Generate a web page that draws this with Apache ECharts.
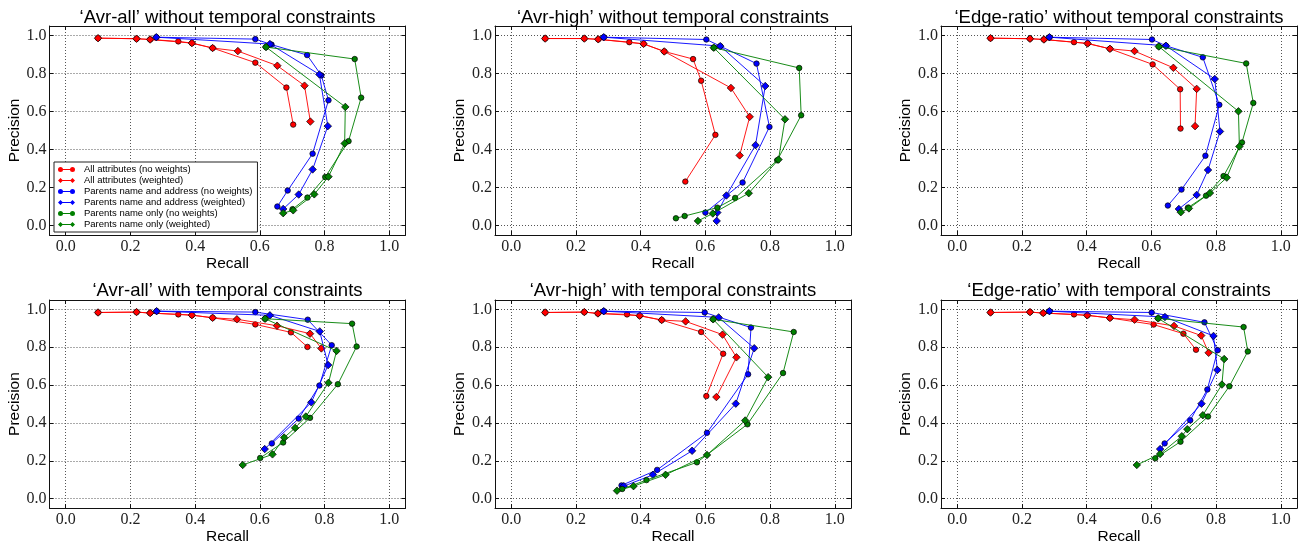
<!DOCTYPE html>
<html>
<head>
<meta charset="utf-8">
<script src="https://cdn.jsdelivr.net/npm/echarts@6/dist/echarts.min.js"></script>
<style>
  html, body { margin: 0; padding: 0; background: #fff; }
  #chart { width: 1299px; height: 546px; }
</style>
</head>
<body>
<div id="chart"></div>
<script>
const panelTitles = [
  '\u2018Avr-all\u2019 without temporal constraints',
  '\u2018Avr-high\u2019 without temporal constraints',
  '\u2018Edge-ratio\u2019 without temporal constraints',
  '\u2018Avr-all\u2019 with temporal constraints',
  '\u2018Avr-high\u2019 with temporal constraints',
  '\u2018Edge-ratio\u2019 with temporal constraints'
];
const seriesNames = [
  'All attributes (no weights)',
  'All attributes (weighted)',
  'Parents name and address (no weights)',
  'Parents name and address (weighted)',
  'Parents name only (no weights)',
  'Parents name only (weighted)'
];
const tickValues = [0, 0.2, 0.4, 0.6, 0.8, 1.0];

// 'Avr-all' without temporal constraints
const allFreeRedNW = [[0.10,0.986],[0.219,0.983],[0.261,0.979],[0.348,0.969],[0.39,0.96],[0.454,0.934],[0.586,0.857],[0.682,0.726],[0.703,0.531]];
const allFreeRedW  = [[0.10,0.986],[0.219,0.983],[0.261,0.979],[0.39,0.96],[0.454,0.934],[0.532,0.918],[0.654,0.841],[0.738,0.736],[0.756,0.547]];
const allFreeBluNW = [[0.28,0.991],[0.586,0.981],[0.636,0.952],[0.746,0.897],[0.79,0.79],[0.812,0.659],[0.763,0.378],[0.686,0.184],[0.654,0.10]];
const allFreeBluW  = [[0.28,0.991],[0.631,0.955],[0.784,0.795],[0.81,0.523],[0.763,0.295],[0.72,0.163],[0.672,0.087]];
const allFreeGrnNW = [[0.619,0.939],[0.893,0.876],[0.913,0.673],[0.874,0.444],[0.802,0.255],[0.747,0.147],[0.701,0.086]];
const allFreeGrnW  = [[0.619,0.939],[0.864,0.624],[0.862,0.432],[0.812,0.257],[0.768,0.164],[0.703,0.08],[0.672,0.065]];

// 'Avr-high' without temporal constraints
const highFreeRedNW = [[0.105,0.984],[0.226,0.984],[0.269,0.98],[0.365,0.965],[0.409,0.956],[0.473,0.916],[0.562,0.876],[0.587,0.762],[0.631,0.477],[0.538,0.231]];
const highFreeRedW  = [[0.105,0.984],[0.226,0.984],[0.269,0.98],[0.409,0.956],[0.473,0.916],[0.679,0.724],[0.737,0.572],[0.706,0.369]];
const highFreeBluNW = [[0.286,0.991],[0.603,0.979],[0.646,0.944],[0.758,0.852],[0.798,0.519],[0.715,0.226],[0.60,0.068]];
const highFreeBluW  = [[0.286,0.991],[0.646,0.944],[0.785,0.734],[0.755,0.423],[0.665,0.158],[0.637,0.068],[0.635,0.024]];
const highFreeGrnNW = [[0.626,0.936],[0.89,0.829],[0.896,0.58],[0.822,0.343],[0.692,0.145],[0.637,0.094],[0.536,0.05],[0.509,0.038]];
const highFreeGrnW  = [[0.626,0.936],[0.846,0.559],[0.826,0.347],[0.734,0.17],[0.623,0.063],[0.577,0.024]];

// 'Edge-ratio' without temporal constraints
const edgeFreeRedNW = [[0.103,0.986],[0.225,0.983],[0.268,0.979],[0.361,0.965],[0.403,0.958],[0.472,0.93],[0.604,0.848],[0.689,0.717],[0.69,0.51]];
const edgeFreeRedW  = [[0.103,0.986],[0.225,0.983],[0.268,0.979],[0.403,0.958],[0.472,0.93],[0.548,0.918],[0.668,0.83],[0.74,0.719],[0.735,0.523]];
const edgeFreeBluNW = [[0.285,0.991],[0.602,0.979],[0.645,0.946],[0.759,0.885],[0.81,0.635],[0.767,0.367],[0.693,0.189],[0.651,0.105]];
const edgeFreeBluW  = [[0.285,0.991],[0.645,0.946],[0.796,0.771],[0.812,0.495],[0.775,0.292],[0.74,0.161],[0.685,0.087]];
const edgeFreeGrnNW = [[0.623,0.942],[0.893,0.853],[0.915,0.645],[0.88,0.437],[0.823,0.26],[0.769,0.157],[0.713,0.094]];
const edgeFreeGrnW  = [[0.623,0.942],[0.869,0.601],[0.872,0.416],[0.833,0.252],[0.781,0.171],[0.716,0.09],[0.691,0.07]];

// 'Avr-all' with temporal constraints
const allTempRedNW = [[0.10,0.984],[0.219,0.986],[0.261,0.981],[0.348,0.974],[0.39,0.97],[0.454,0.956],[0.586,0.921],[0.696,0.879],[0.747,0.802]];
const allTempRedW  = [[0.10,0.984],[0.219,0.986],[0.261,0.981],[0.39,0.97],[0.454,0.956],[0.529,0.948],[0.653,0.914],[0.755,0.872],[0.79,0.794]];
const allTempBluNW = [[0.281,0.991],[0.586,0.986],[0.748,0.946],[0.822,0.811],[0.784,0.598],[0.72,0.423],[0.637,0.292]];
const allTempBluW  = [[0.281,0.991],[0.631,0.969],[0.785,0.884],[0.811,0.706],[0.759,0.509],[0.615,0.262]];
const allTempGrnNW = [[0.616,0.951],[0.885,0.925],[0.899,0.804],[0.841,0.605],[0.755,0.427],[0.672,0.297],[0.601,0.215]];
const allTempGrnW  = [[0.616,0.951],[0.837,0.781],[0.812,0.612],[0.742,0.434],[0.709,0.374],[0.675,0.323],[0.639,0.234],[0.547,0.178]];

// 'Avr-high' with temporal constraints
const highTempRedNW = [[0.105,0.984],[0.226,0.986],[0.268,0.979],[0.358,0.974],[0.397,0.967],[0.465,0.944],[0.587,0.881],[0.655,0.766],[0.603,0.542]];
const highTempRedW  = [[0.105,0.984],[0.226,0.986],[0.268,0.979],[0.397,0.967],[0.465,0.944],[0.539,0.937],[0.653,0.867],[0.696,0.747],[0.634,0.537]];
const highTempBluNW = [[0.286,0.991],[0.598,0.984],[0.741,0.904],[0.732,0.657],[0.605,0.348],[0.451,0.152],[0.341,0.07]];
const highTempBluW  = [[0.286,0.991],[0.641,0.958],[0.751,0.795],[0.694,0.502],[0.559,0.253],[0.438,0.126],[0.348,0.066]];
const highTempGrnNW = [[0.624,0.948],[0.873,0.881],[0.84,0.664],[0.73,0.393],[0.574,0.192],[0.418,0.098],[0.343,0.051]];
const highTempGrnW  = [[0.624,0.948],[0.794,0.642],[0.723,0.413],[0.605,0.231],[0.477,0.126],[0.378,0.066],[0.327,0.042]];

// 'Edge-ratio' with temporal constraints
const edgeTempRedNW = [[0.103,0.984],[0.225,0.986],[0.266,0.981],[0.361,0.974],[0.402,0.969],[0.472,0.955],[0.607,0.92],[0.699,0.872],[0.738,0.787]];
const edgeTempRedW  = [[0.103,0.984],[0.225,0.986],[0.266,0.981],[0.402,0.969],[0.472,0.955],[0.548,0.946],[0.67,0.913],[0.754,0.862],[0.777,0.771]];
const edgeTempBluNW = [[0.285,0.991],[0.601,0.984],[0.764,0.932],[0.805,0.785],[0.773,0.577],[0.72,0.414],[0.641,0.292]];
const edgeTempBluW  = [[0.285,0.991],[0.642,0.96],[0.792,0.86],[0.804,0.68],[0.755,0.502],[0.627,0.262]];
const edgeTempGrnNW = [[0.621,0.953],[0.885,0.907],[0.898,0.778],[0.841,0.594],[0.775,0.434],[0.69,0.301],[0.612,0.213]];
const edgeTempGrnW  = [[0.621,0.953],[0.825,0.738],[0.818,0.603],[0.759,0.441],[0.711,0.367],[0.694,0.33],[0.627,0.236],[0.555,0.178]];

const panelData = [
  [allFreeRedNW, allFreeRedW, allFreeBluNW, allFreeBluW, allFreeGrnNW, allFreeGrnW],
  [highFreeRedNW, highFreeRedW, highFreeBluNW, highFreeBluW, highFreeGrnNW, highFreeGrnW],
  [edgeFreeRedNW, edgeFreeRedW, edgeFreeBluNW, edgeFreeBluW, edgeFreeGrnNW, edgeFreeGrnW],
  [allTempRedNW, allTempRedW, allTempBluNW, allTempBluW, allTempGrnNW, allTempGrnW],
  [highTempRedNW, highTempRedW, highTempBluNW, highTempBluW, highTempGrnNW, highTempGrnW],
  [edgeTempRedNW, edgeTempRedW, edgeTempBluNW, edgeTempBluW, edgeTempGrnNW, edgeTempGrnW]
];

const colors = ['#ff0000', '#ff0000', '#0000ff', '#0000ff', '#008000', '#008000'];
const symbols = ['circle', 'diamond', 'circle', 'diamond', 'circle', 'diamond'];
const symbolSizes = [5.5, 7.5, 5.5, 7.5, 5.5, 7.5];

const gridLeft = [49.5, 495, 941];
const gridTop = [26, 300];
const gridW = 356, gridH = 209;

const sans = 'Liberation Sans, Arial, sans-serif';
const serif = 'Liberation Serif, Times New Roman, serif';

const iconCircle = 'path://M0,2.5A2.5,2.5,0,1,1,5,2.5A2.5,2.5,0,1,1,0,2.5Z M12,2.5A2.5,2.5,0,1,1,17,2.5A2.5,2.5,0,1,1,12,2.5Z M4,2.1L13,2.1L13,2.9L4,2.9Z';
const iconDiamond = 'path://M2.5,0L5,2.5L2.5,5L0,2.5Z M14.5,0L17,2.5L14.5,5L12,2.5Z M4,2.1L13,2.1L13,2.9L4,2.9Z';

const grids = [], xAxes = [], yAxes = [], series = [], titles = [];
const frameLine = { show: true, onZero: false, lineStyle: { color: '#111', width: 1 } };
const inTick = { show: true, inside: true, length: 4, customValues: tickValues, lineStyle: { color: '#111', width: 1 } };
const dotted = { show: true, lineStyle: { color: '#555', width: 1, type: [1, 2] } };

panelTitles.forEach((t, i) => {
  const col = i % 3, row = Math.floor(i / 3);
  grids.push({ left: gridLeft[col], top: gridTop[row], width: gridW, height: gridH });
  titles.push({
    text: t, left: gridLeft[col] + gridW / 2, top: row === 0 ? 17.5 : 290.5,
    textAlign: 'center', textVerticalAlign: 'middle', padding: 0,
    textStyle: { fontFamily: sans, fontSize: 18.5, fontWeight: 'normal', color: '#000' }
  });
  xAxes.push({
    type: 'value', gridIndex: i, position: 'bottom', min: -0.05, max: 1.05,
    name: 'Recall', nameLocation: 'middle', nameGap: 16,
    nameTextStyle: { fontFamily: sans, fontSize: 15.5, color: '#000' },
    axisLine: frameLine, axisTick: inTick, splitLine: dotted,
    axisLabel: { customValues: tickValues, margin: 4, fontFamily: serif, fontSize: 16, color: '#222', formatter: v => v.toFixed(1) }
  });
  xAxes.push({
    type: 'value', gridIndex: i, position: 'top', min: -0.05, max: 1.05,
    axisLine: frameLine, axisTick: inTick, splitLine: { show: false }, axisLabel: { show: false }
  });
  yAxes.push({
    type: 'value', gridIndex: i, position: 'left', min: -0.05, max: 1.05,
    name: 'Precision', nameLocation: 'middle', nameGap: 25,
    nameTextStyle: { fontFamily: sans, fontSize: 15.5, color: '#000' },
    axisLine: frameLine, axisTick: inTick, splitLine: dotted,
    axisLabel: { customValues: tickValues, margin: 3, fontFamily: serif, fontSize: 16, color: '#222', formatter: v => v.toFixed(1) }
  });
  yAxes.push({
    type: 'value', gridIndex: i, position: 'right', min: -0.05, max: 1.05,
    axisLine: frameLine, axisTick: inTick, splitLine: { show: false }, axisLabel: { show: false }
  });
  panelData[i].forEach((d, k) => {
    series.push({
      type: 'line', name: seriesNames[k], xAxisIndex: 2 * i, yAxisIndex: 2 * i,
      data: d, symbol: symbols[k], symbolSize: symbolSizes[k], showSymbol: true,
      lineStyle: { color: colors[k], width: 1, opacity: 0.9 },
      itemStyle: { color: colors[k], borderColor: '#000', borderWidth: 0.7 },
      z: 2 + k, silent: true, animation: false
    });
  });
});

const chart = echarts.init(document.getElementById('chart'), null, { renderer: 'canvas' });
chart.setOption({
  backgroundColor: '#fff',
  animation: false,
  title: titles,
  grid: grids,
  xAxis: xAxes,
  yAxis: yAxes,
  legend: {
    orient: 'vertical', left: 54, top: 162, z: 20,
    backgroundColor: '#fff', borderColor: '#222', borderWidth: 1, borderRadius: 0,
    padding: [2, 5, 2, 4], itemGap: 0, itemWidth: 17, itemHeight: 5,
    selectedMode: false,
    itemStyle: { borderWidth: 0 },
    textStyle: { fontFamily: sans, fontSize: 9.5, color: '#000', lineHeight: 11, padding: [0, 0, 0, 4] },
    data: seriesNames.map((n, k) => ({ name: n, icon: k % 2 === 0 ? iconCircle : iconDiamond }))
  },
  series: series
});
</script>
</body>
</html>
